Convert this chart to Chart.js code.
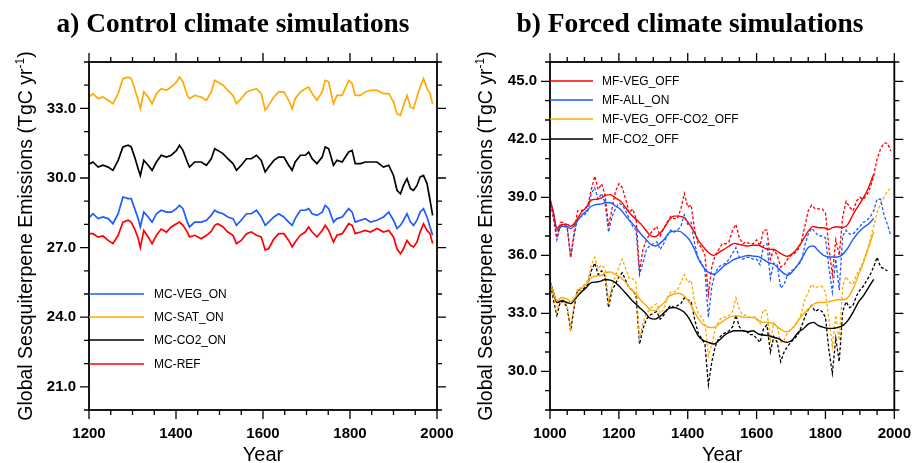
<!DOCTYPE html>
<html lang="en">
<head>
  <meta charset="UTF-8">
  <title>Global sesquiterpene emissions</title>
  <script src="https://cdn.jsdelivr.net/npm/chart.js"></script>
  <style>
    body { margin: 0; background: #fff; }
    #wrap { position: relative; width: 917px; height: 463px; }
    canvas { position: absolute; top: 0; }
    #chartA { left: 0; }
    #chartB { left: 460px; }
  </style>
</head>
<body>
  <div id="wrap">
    <canvas id="chartA" width="460" height="463"></canvas>
    <canvas id="chartB" width="457" height="463"></canvas>
  </div>

  <script>
    // ---- panel a) control simulations ----
    const yearsA = [1201, 1209, 1221, 1232, 1244, 1255, 1267, 1278, 1290, 1297, 1305, 1313, 1318, 1326, 1336, 1345, 1355, 1366, 1378, 1389,
      1401, 1408, 1416, 1426, 1431, 1443, 1458, 1470, 1481, 1489, 1496, 1508, 1519, 1531, 1539, 1550, 1562, 1573, 1585, 1596,
      1605, 1613, 1625, 1636, 1648, 1659, 1667, 1674, 1686, 1697, 1705, 1713, 1724, 1736, 1743, 1751, 1762, 1770, 1782, 1797,
      1805, 1812, 1824, 1835, 1847, 1862, 1877, 1889, 1900, 1908, 1916, 1923, 1931, 1939, 1946, 1954, 1961, 1969, 1977, 1984, 1990];

    const mcRef = [27.6, 27.6, 27.45, 27.5, 27.31, 27.17, 27.53, 28.1, 28.18, 28.1, 27.8, 27.4, 27.0, 27.74, 27.46, 27.17, 27.53, 27.8, 27.67, 27.89,
      28.03, 28.1, 27.96, 27.67, 27.46, 27.53, 27.38, 27.53, 27.7, 27.96, 28.03, 27.89, 27.67, 27.53, 27.17, 27.31, 27.6, 27.67, 27.53, 27.46,
      26.9, 26.95, 27.38, 27.6, 27.6, 27.31, 27.03, 27.24, 27.53, 27.67, 27.89, 27.67, 27.46, 27.74, 27.96, 27.74, 27.24, 27.53, 27.6, 28.03,
      27.96, 27.6, 27.67, 27.74, 27.67, 27.82, 27.67, 27.74, 27.46, 26.95, 26.74, 26.95, 27.31, 27.1, 27.03, 27.24, 27.67, 28.03, 27.74, 27.6, 27.17];

    const mcVegOn = [28.3, 28.46, 28.25, 28.32, 28.25, 28.03, 28.46, 29.18, 29.11, 29.11, 28.68, 28.25, 27.89, 28.53, 28.32, 28.1, 28.46, 28.61, 28.53, 28.53,
      28.68, 28.82, 28.68, 28.1, 27.89, 28.1, 28.1, 28.18, 28.39, 28.61, 28.53, 28.46, 28.32, 28.25, 27.96, 28.18, 28.46, 28.46, 28.61, 28.32,
      27.96, 28.1, 28.32, 28.46, 28.32, 28.1, 27.96, 28.25, 28.61, 28.61, 28.68, 28.46, 28.39, 28.53, 28.82, 28.68, 28.1, 28.25, 28.32, 28.68,
      28.53, 28.1, 28.18, 28.25, 28.1, 28.18, 28.32, 28.53, 28.18, 27.82, 27.96, 28.18, 28.46, 28.1, 27.96, 28.18, 28.53, 28.68, 28.32, 27.89, 27.53];

    const mcCo2On = [30.6, 30.69, 30.47, 30.55, 30.47, 30.33, 30.76, 31.34, 31.41, 31.34, 30.9, 30.4, 30.11, 30.76, 30.55, 30.33, 30.69, 30.98, 30.9, 30.98,
      31.19, 31.41, 31.19, 30.69, 30.47, 30.69, 30.69, 30.55, 30.83, 31.26, 31.19, 31.05, 30.83, 30.62, 30.33, 30.55, 30.83, 30.83, 30.98, 30.76,
      30.26, 30.47, 30.76, 30.9, 30.9, 30.55, 30.33, 30.69, 30.98, 30.98, 31.12, 30.83, 30.62, 30.9, 31.34, 31.26, 30.55, 30.76, 30.69, 31.12,
      31.19, 30.62, 30.62, 30.69, 30.69, 30.69, 30.47, 30.55, 30.11, 29.47, 29.32, 29.68, 29.97, 29.54, 29.47, 29.68, 30.04, 30.11, 29.76, 29.04, 28.39];

    const mcSatOn = [33.5, 33.64, 33.42, 33.49, 33.35, 33.2, 33.64, 34.28, 34.35, 34.28, 33.85, 33.35, 32.99, 33.71, 33.49, 33.2, 33.64, 33.85, 33.78, 33.92,
      34.14, 34.35, 34.14, 33.56, 33.42, 33.56, 33.49, 33.35, 33.71, 34.21, 34.14, 34.0, 33.78, 33.56, 33.2, 33.42, 33.71, 33.78, 33.85, 33.64,
      32.92, 33.13, 33.49, 33.71, 33.71, 33.35, 32.99, 33.42, 33.71, 33.85, 33.92, 33.64, 33.35, 33.71, 34.21, 34.14, 33.2, 33.56, 33.56, 34.21,
      34.07, 33.56, 33.56, 33.71, 33.78, 33.78, 33.64, 33.64, 33.28, 32.77, 32.7, 33.13, 33.56, 33.06, 32.99, 33.49, 33.92, 34.28, 33.85, 33.64, 33.2];

    const ticksAx = [1200, 1400, 1600, 1800, 2000];
    const ticksAy = [21, 24, 27, 30, 33];

    // ---- panel b) forced simulations ----
    // decadal values (dashed) and their smoothed counterparts (solid)
    const yearsRaw = [];
    for (let y = 1000; y <= 1990; y += 10) yearsRaw.push(y);

    const vegOffRaw = [38.9, 38.0, 36.9, 37.7, 37.7, 37.5, 35.9, 37.2, 38.3, 38.3,
      38.4, 38.6, 39.4, 40.1, 39.4, 39.7, 39.1, 37.5, 38.4, 39.3,
      39.7, 39.5, 38.9, 38.2, 38.4, 37.9, 35.2, 36.3, 36.8, 37.1,
      37.3, 37.5, 37.0, 37.4, 37.7, 38.0, 37.9, 37.9, 38.4, 39.2,
      38.5, 38.6, 37.3, 36.6, 36.4, 36.0, 34.0, 35.4, 36.0, 36.3,
      36.6, 36.6, 36.7, 37.3, 37.6, 36.9, 36.6, 36.7, 36.6, 36.6,
      36.8, 36.5, 37.3, 37.3, 35.8, 36.3, 36.0, 35.4, 35.5, 35.8,
      36.0, 36.1, 36.3, 36.7, 37.5, 38.3, 38.6, 38.4, 38.4, 38.4,
      38.2, 36.4, 35.0, 36.8, 36.0, 38.0, 38.8, 38.5, 38.3, 38.8,
      39.0, 38.9, 39.1, 39.5, 40.1, 41.0, 41.5, 41.8, 41.8, 41.4];

    const allOnRaw = [38.9, 37.9, 36.8, 37.5, 37.6, 37.4, 35.9, 37.0, 37.9, 38.0,
      38.1, 38.3, 39.2, 39.5, 38.9, 39.2, 38.7, 37.2, 38.0, 38.4,
      38.7, 38.6, 38.3, 37.9, 37.5, 37.3, 35.0, 35.6, 36.3, 36.5,
      36.6, 36.7, 36.3, 36.6, 37.0, 37.3, 37.2, 37.3, 37.5, 38.1,
      37.6, 37.7, 36.6, 35.9, 35.6, 35.2, 32.8, 34.4, 35.1, 35.4,
      35.5, 35.6, 35.8, 36.1, 36.4, 35.9, 35.8, 35.9, 35.9, 35.8,
      35.8, 35.5, 36.5, 36.6, 34.8, 35.6, 35.5, 34.3, 34.5, 35.0,
      35.2, 35.3, 35.5, 35.7, 36.5, 37.1, 37.4, 37.2, 37.0, 37.0,
      36.9, 35.4, 34.1, 35.8, 34.2, 37.0, 37.3, 37.1, 37.1, 37.3,
      37.5, 37.7, 37.8, 38.0, 38.3, 38.9, 38.9, 38.1, 37.6, 37.0];

    const vegCo2OffRaw = [34.7, 33.9, 33.1, 33.7, 33.7, 33.4, 32.2, 33.4, 34.3, 34.3,
      34.5, 34.7, 35.5, 35.9, 35.3, 35.5, 35.3, 33.6, 34.4, 34.9,
      35.4, 35.8, 35.3, 34.8, 34.8, 34.6, 31.7, 32.5, 33.0, 33.2,
      33.4, 33.5, 33.0, 33.2, 33.8, 34.1, 34.1, 34.2, 34.6, 35.0,
      34.6, 34.7, 33.6, 33.0, 32.8, 32.5, 30.8, 31.4, 32.2, 32.6,
      32.8, 32.8, 32.9, 33.1, 33.8, 33.2, 32.9, 32.9, 32.8, 32.8,
      32.8, 32.5, 33.2, 33.1, 31.6, 32.5, 32.3, 31.5, 31.6, 32.0,
      32.2, 32.3, 32.6, 33.0, 33.7, 34.1, 34.5, 34.3, 34.4, 34.4,
      34.1, 32.7, 31.3, 32.9, 31.6, 34.4, 34.9, 34.6, 34.5, 35.0,
      35.3, 35.7, 36.2, 36.8, 37.5, 38.2, 38.7, 39.0, 39.3, 39.5];

    const co2OffRaw = [34.7, 33.7, 32.9, 33.6, 33.6, 33.3, 32.1, 33.3, 34.2, 34.2,
      34.3, 34.5, 35.2, 35.6, 35.0, 35.2, 34.9, 33.3, 34.2, 34.5,
      34.9, 35.1, 34.7, 34.3, 34.2, 33.9, 31.4, 32.2, 32.7, 32.9,
      33.0, 33.1, 32.7, 32.9, 33.2, 33.4, 33.3, 33.4, 33.5, 33.8,
      33.7, 33.6, 32.7, 32.0, 31.7, 31.4, 29.3, 30.5, 31.3, 31.7,
      31.9, 32.0, 32.1, 32.3, 32.9, 32.3, 32.1, 32.1, 31.9, 31.9,
      31.7, 31.5, 32.2, 32.4, 31.0, 31.8, 31.5, 30.5, 31.0, 31.3,
      31.5, 31.7, 31.9, 32.3, 32.8, 33.2, 33.4, 33.1, 33.2, 33.1,
      32.8, 31.1, 29.9, 31.7, 30.5, 33.1, 33.6, 33.3, 33.4, 33.9,
      34.2, 34.4, 34.7, 35.0, 35.4, 35.9, 35.4, 35.3, 35.2, null];

    const yearsSmooth = [1000, 1010, 1020, 1035, 1050, 1060, 1075, 1090, 1105, 1120, 1135, 1150, 1160, 1175, 1190, 1205, 1220, 1235, 1250, 1265,
      1280, 1290, 1305, 1320, 1335, 1345, 1360, 1375, 1390, 1405, 1420, 1430, 1445, 1460, 1475, 1490, 1505, 1520, 1535, 1550,
      1560, 1575, 1590, 1605, 1620, 1635, 1650, 1665, 1680, 1690, 1705, 1720, 1735, 1750, 1765, 1780, 1795, 1810, 1820, 1835,
      1850, 1865, 1880, 1895, 1910, 1925, 1940];

    const vegOffSmooth = [38.9, 38.2, 37.4, 37.6, 37.6, 37.5, 37.75, 38.2, 38.46, 38.85, 38.9, 38.97, 39.1, 39.14, 38.97, 38.8, 38.46, 38.11, 37.86, 37.6,
      37.26, 37.05, 36.96, 37.15, 37.5, 37.8, 38.03, 38.03, 37.94, 37.6, 37.17, 36.8, 36.45, 36.15, 36.0, 36.14, 36.31, 36.48, 36.62, 36.57,
      36.53, 36.48, 36.52, 36.52, 36.4, 36.31, 36.3, 36.15, 36.0, 35.95, 36.1, 36.4, 36.8, 37.25, 37.5, 37.43, 37.43, 37.34, 37.43, 37.48,
      37.43, 37.6, 38.11, 38.54, 38.97, 39.5, 40.2];

    const allOnSmooth = [38.9, 38.2, 37.3, 37.5, 37.48, 37.38, 37.65, 38.03, 38.28, 38.54, 38.63, 38.66, 38.73, 38.72, 38.55, 38.37, 38.03, 37.72, 37.43, 37.08,
      36.8, 36.6, 36.48, 36.63, 36.9, 37.15, 37.25, 37.25, 37.08, 36.8, 36.3, 35.85, 35.4, 35.12, 35.02, 35.19, 35.45, 35.62, 35.79, 35.88,
      35.93, 36.0, 35.96, 35.93, 35.79, 35.62, 35.54, 35.3, 35.05, 34.97, 35.18, 35.52, 35.95, 36.4, 36.48, 36.22, 36.0, 35.91, 35.91, 35.91,
      36.05, 36.38, 36.82, 37.17, 37.43, 37.62, 37.9];

    const vegCo2OffSmooth = [34.68, 34.08, 33.65, 33.82, 33.73, 33.6, 33.88, 34.25, 34.5, 34.85, 34.93, 34.97, 35.1, 35.14, 35.02, 34.85, 34.59, 34.25, 33.99, 33.65,
      33.39, 33.2, 33.13, 33.38, 33.62, 33.88, 33.99, 34.04, 33.9, 33.56, 33.05, 32.75, 32.42, 32.28, 32.27, 32.44, 32.62, 32.79, 32.87, 32.87,
      32.8, 32.79, 32.79, 32.62, 32.53, 32.53, 32.44, 32.25, 32.08, 32.05, 32.25, 32.6, 32.95, 33.22, 33.47, 33.56, 33.56, 33.6, 33.65, 33.7,
      33.7, 33.82, 34.25, 34.94, 35.62, 36.4, 37.2];

    const co2OffSmooth = [34.68, 34.08, 33.56, 33.65, 33.56, 33.5, 33.8, 34.08, 34.33, 34.59, 34.62, 34.68, 34.75, 34.72, 34.59, 34.33, 34.04, 33.73, 33.47, 33.22,
      32.96, 32.75, 32.7, 32.85, 33.1, 33.25, 33.3, 33.22, 33.05, 32.7, 32.19, 31.85, 31.6, 31.5, 31.41, 31.58, 31.84, 32.01, 32.1, 32.1,
      32.1, 32.05, 32.1, 31.93, 31.88, 31.84, 31.76, 31.68, 31.52, 31.5, 31.65, 32.0, 32.19, 32.44, 32.53, 32.36, 32.27, 32.22, 32.22, 32.27,
      32.36, 32.62, 33.05, 33.56, 33.9, 34.33, 34.76];

    const ticksBx = [1000, 1200, 1400, 1600, 1800, 2000];
    const ticksBy = [30, 33, 36, 39, 42, 45];

    const RED = '#ff0000', BLUE = '#1e5aff', ORANGE = '#ffaa00', BLACK = '#000000';

    // pairs years with values for a linear x axis
    function pts(xs, ys) {
      return xs.map((x, i) => ({ x: x, y: ys[i] }));
    }

    // outward major/minor ticks on all four sides, plus the frame
    const frameTicks = {
      id: 'frameTicks',
      afterDatasetsDraw(chart, args, o) {
        const { ctx, chartArea: a, scales: { x, y } } = chart;
        ctx.save();
        ctx.strokeStyle = '#000';
        ctx.lineWidth = 1.3;
        ctx.beginPath();
        for (let v = o.xMin; v <= o.xMax; v += o.xMinor) {
          const px = x.getPixelForValue(v);
          const len = (v - o.xMin) % o.xMajor === 0 ? 9 : 5;
          ctx.moveTo(px, a.bottom); ctx.lineTo(px, a.bottom + len);
          ctx.moveTo(px, a.top); ctx.lineTo(px, a.top - len);
        }
        for (let v = o.yMin; v <= o.yMax; v += 1) {
          const py = y.getPixelForValue(v);
          const len = o.yMajor.includes(v) ? 9 : 5;
          ctx.moveTo(a.left, py); ctx.lineTo(a.left - len, py);
          ctx.moveTo(a.right, py); ctx.lineTo(a.right + len, py);
        }
        ctx.stroke();
        ctx.lineWidth = 1.8;
        ctx.strokeRect(a.left, a.top, a.right - a.left, a.bottom - a.top);
        ctx.restore();
      }
    };

    // panel title, axis titles and the in-plot legend
    const panelText = {
      id: 'panelText',
      afterDraw(chart, args, o) {
        const { ctx, chartArea: a } = chart;
        ctx.save();
        ctx.fillStyle = '#000';

        ctx.textAlign = 'center';
        ctx.textBaseline = 'alphabetic';
        ctx.font = 'bold 100px "Liberation Serif"';
        const ts = 100 * o.titleWidth / ctx.measureText(o.title).width;
        ctx.font = 'bold ' + ts.toFixed(2) + 'px "Liberation Serif"';
        ctx.fillText(o.title, o.titleX, 32);

        ctx.font = '20px "Liberation Sans"';
        ctx.fillText('Year', (a.left + a.right) / 2, 461);

        // y title with superscript
        const main = 'Global Sesquiterpene Emissions (TgC yr', sup = '-1', tail = ')';
        const mainFont = '19.5px "Liberation Sans"', supFont = '12px "Liberation Sans"';
        ctx.font = mainFont;
        const w1 = ctx.measureText(main).width, w3 = ctx.measureText(tail).width;
        ctx.font = supFont;
        const w2 = ctx.measureText(sup).width;
        const total = w1 + w2 + w3;
        ctx.translate(32, (a.top + a.bottom) / 2);
        ctx.rotate(-Math.PI / 2);
        ctx.textAlign = 'left';
        let sx = -total / 2;
        ctx.font = mainFont; ctx.fillText(main, sx, 0); sx += w1;
        ctx.font = supFont; ctx.fillText(sup, sx, -8); sx += w2;
        ctx.font = mainFont; ctx.fillText(tail, sx, 0);
        ctx.setTransform(1, 0, 0, 1, 0, 0);

        ctx.font = '12px "Liberation Sans"';
        ctx.textBaseline = 'middle';
        ctx.textAlign = 'left';
        o.legend.forEach((item, i) => {
          const ly = o.legendY[i];
          ctx.strokeStyle = item.color;
          ctx.lineWidth = 1.5;
          ctx.beginPath();
          ctx.moveTo(a.left, ly);
          ctx.lineTo(o.legendX[0], ly);
          ctx.stroke();
          ctx.fillText(item.label, o.legendX[1], ly + 1);
        });
        ctx.restore();
      }
    };

    const tickFont = { family: 'Liberation Sans', size: 15, weight: 'bold' };

    function axes(xr, yr, xt, yt, yWidth) {
      return {
        x: {
          type: 'linear', min: xr[0], max: xr[1],
          afterBuildTicks: s => { s.ticks = xt.map(v => ({ value: v })); },
          afterFit: s => { s.height = 53; },
          grid: { display: false, drawTicks: true, tickLength: 9 },
          border: { display: false },
          ticks: { font: tickFont, color: '#000', padding: 6, maxRotation: 0, autoSkip: false, callback: v => String(v) }
        },
        y: {
          min: yr[0], max: yr[1],
          afterBuildTicks: s => { s.ticks = yt.map(v => ({ value: v })); },
          afterFit: s => { s.width = yWidth; },
          grid: { display: false, drawTicks: true, tickLength: 9 },
          border: { display: false },
          ticks: { font: tickFont, color: '#000', padding: 4, autoSkip: false, callback: v => v.toFixed(1) }
        }
      };
    }

    const baseOpts = {
      responsive: false,
      animation: false,
      devicePixelRatio: 1,
      elements: { point: { radius: 0 } },
      plugins: { legend: { display: false }, tooltip: { enabled: false } }
    };

    function line(label, xs, ys, color, extra) {
      return Object.assign({ label: label, data: pts(xs, ys), borderColor: color, borderWidth: 1.7, fill: false, tension: 0 }, extra || {});
    }

    new Chart(document.getElementById('chartA'), {
      type: 'line',
      data: {
        datasets: [
          line('MC-REF', yearsA, mcRef, RED),
          line('MC-VEG_ON', yearsA, mcVegOn, BLUE),
          line('MC-CO2_ON', yearsA, mcCo2On, BLACK),
          line('MC-SAT_ON', yearsA, mcSatOn, ORANGE)
        ]
      },
      options: Object.assign({}, baseOpts, {
        layout: { padding: { top: 62, right: 23, left: 0, bottom: 0 } },
        scales: axes([1200, 2000], [20, 35], ticksAx, ticksAy, 89),
        plugins: Object.assign({}, baseOpts.plugins, {
          frameTicks: { xMin: 1200, xMax: 2000, xMinor: 50, xMajor: 200, yMin: 20, yMax: 35, yMajor: ticksAy },
          panelText: {
            title: 'a) Control climate simulations', titleX: 233, titleWidth: 353,
            legend: [
              { label: 'MC-VEG_ON', color: BLUE },
              { label: 'MC-SAT_ON', color: ORANGE },
              { label: 'MC-CO2_ON', color: BLACK },
              { label: 'MC-REF', color: RED }
            ],
            legendX: [144, 154], legendY: [294, 317, 340, 364]
          }
        })
      }),
      plugins: [frameTicks, panelText]
    });

    const dash = { borderDash: [3, 2], borderWidth: 1.3 };
    const smooth = { borderWidth: 1.4, cubicInterpolationMode: 'monotone' };

    new Chart(document.getElementById('chartB'), {
      type: 'line',
      data: {
        datasets: [
          line('MF-VEG_OFF', yearsSmooth, vegOffSmooth, RED, smooth),
          line('MF-ALL_ON', yearsSmooth, allOnSmooth, BLUE, smooth),
          line('MF-VEG_OFF-CO2_OFF', yearsSmooth, vegCo2OffSmooth, ORANGE, smooth),
          line('MF-CO2_OFF', yearsSmooth, co2OffSmooth, BLACK, smooth),
          line('MF-VEG_OFF raw', yearsRaw, vegOffRaw, RED, dash),
          line('MF-ALL_ON raw', yearsRaw, allOnRaw, BLUE, dash),
          line('MF-VEG_OFF-CO2_OFF raw', yearsRaw, vegCo2OffRaw, ORANGE, dash),
          line('MF-CO2_OFF raw', yearsRaw, co2OffRaw, BLACK, dash)
        ]
      },
      options: Object.assign({}, baseOpts, {
        layout: { padding: { top: 62, right: 20, left: 0, bottom: 0 } },
        scales: axes([1000, 2000], [28, 46], ticksBx, ticksBy, 90),
        plugins: Object.assign({}, baseOpts.plugins, {
          frameTicks: { xMin: 1000, xMax: 2000, xMinor: 50, xMajor: 200, yMin: 28, yMax: 46, yMajor: ticksBy },
          panelText: {
            title: 'b) Forced climate simulations', titleX: 230, titleWidth: 347,
            legend: [
              { label: 'MF-VEG_OFF', color: RED },
              { label: 'MF-ALL_ON', color: BLUE },
              { label: 'MF-VEG_OFF-CO2_OFF', color: ORANGE },
              { label: 'MF-CO2_OFF', color: BLACK }
            ],
            legendX: [133, 142], legendY: [81, 100, 119, 139]
          }
        })
      }),
      plugins: [frameTicks, panelText]
    });
  </script>
</body>
</html>
